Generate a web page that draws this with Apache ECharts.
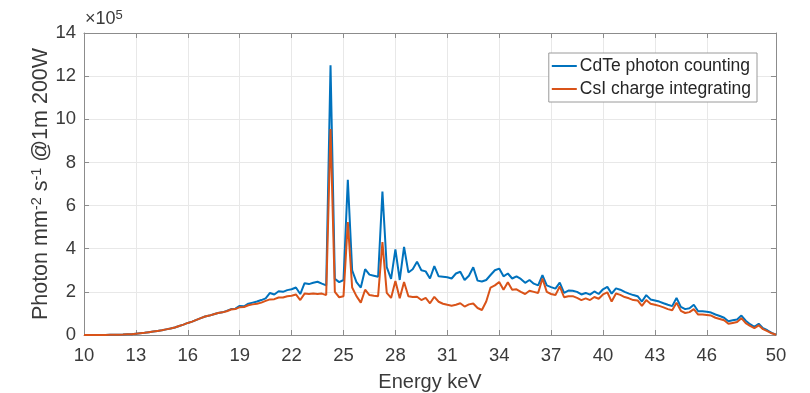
<!DOCTYPE html>
<html>
<head>
<meta charset="utf-8">
<script src="https://cdn.jsdelivr.net/npm/echarts@6/dist/echarts.min.js"></script>
<style>
html,body{margin:0;padding:0;background:#fff;}
#c{width:810px;height:393px;}
</style>
</head>
<body>
<div id="c"></div>
<script>
// Energy (keV)
const energy = [
10.00,10.25,10.50,10.75,11.00,11.25,11.50,11.75,12.00,12.25,12.50,12.75,
13.00,13.25,13.50,13.75,14.00,14.25,14.50,14.75,15.00,15.25,15.50,15.75,
16.00,16.25,16.50,16.75,17.00,17.25,17.50,17.75,18.00,18.25,18.50,18.75,
19.00,19.25,19.50,19.75,20.00,20.25,20.50,20.75,21.00,21.25,21.50,21.75,
22.00,22.25,22.50,22.75,23.00,23.25,23.50,23.75,24.00,24.25,24.50,24.75,
25.00,25.25,25.50,25.75,26.00,26.25,26.50,26.75,27.00,27.25,27.50,27.75,
28.00,28.25,28.50,28.75,29.00,29.25,29.50,29.75,30.00,30.25,30.50,30.75,
31.00,31.25,31.50,31.75,32.00,32.25,32.50,32.75,33.00,33.25,33.50,33.75,
34.00,34.25,34.50,34.75,35.00,35.25,35.50,35.75,36.00,36.25,36.50,36.75,
37.00,37.25,37.50,37.75,38.00,38.25,38.50,38.75,39.00,39.25,39.50,39.75,
40.00,40.25,40.50,40.75,41.00,41.25,41.50,41.75,42.00,42.25,42.50,42.75,
43.00,43.25,43.50,43.75,44.00,44.25,44.50,44.75,45.00,45.25,45.50,45.75,
46.00,46.25,46.50,46.75,47.00,47.25,47.50,47.75,48.00,48.25,48.50,48.75,
49.00,49.25,49.50,49.75,50.00
];
// CdTe photon counting (x1e5 photon mm^-2 s^-1)
const cdte = [
0,0,0,0,0.005,0.005,0.01,0.01,0.015,0.02,0.03,0.04,
0.06,0.08,0.10,0.13,0.16,0.19,0.22,0.26,0.30,0.35,0.42,0.48,
0.56,0.62,0.70,0.78,0.86,0.90,0.96,1.02,1.05,1.12,1.20,1.22,
1.35,1.33,1.45,1.50,1.55,1.62,1.70,1.95,1.88,2.03,2.00,2.08,
2.12,2.20,1.90,2.40,2.36,2.42,2.47,2.38,2.30,12.5,2.60,2.45,
2.55,7.2,3.0,2.45,2.2,3.05,2.8,2.75,2.7,6.65,3.15,2.6,
3.97,2.55,4.08,2.9,3.05,3.4,3.0,2.95,2.62,3.19,2.72,2.7,
2.68,2.62,2.85,2.93,2.55,2.75,3.14,2.52,2.48,2.55,2.78,3.0,
3.08,2.72,2.85,2.62,2.72,2.6,2.42,2.55,2.38,2.3,2.77,2.3,
2.22,2.15,2.43,1.95,2.06,2.05,2.0,1.88,1.95,1.87,2.02,1.9,
2.12,2.23,1.92,2.16,2.1,2.0,1.92,1.85,1.8,1.55,1.85,1.65,
1.6,1.55,1.47,1.4,1.34,1.72,1.3,1.2,1.24,1.4,1.1,1.1,
1.08,1.04,0.95,0.88,0.8,0.64,0.68,0.72,0.9,0.66,0.5,0.38,
0.52,0.32,0.22,0.1,0.02
];
// CsI charge integrating (x1e5 photon mm^-2 s^-1)
const csi = [
0,0,0,0,0.005,0.005,0.01,0.01,0.015,0.02,0.03,0.04,
0.06,0.08,0.10,0.13,0.16,0.19,0.22,0.26,0.30,0.35,0.42,0.48,
0.56,0.62,0.70,0.78,0.86,0.90,0.96,1.02,1.05,1.10,1.18,1.20,
1.29,1.30,1.38,1.42,1.45,1.50,1.58,1.65,1.66,1.74,1.74,1.80,
1.82,1.88,1.62,1.92,1.90,1.92,1.90,1.92,1.85,9.55,2.0,1.75,
1.8,5.24,2.2,1.8,1.5,2.1,1.85,1.82,1.8,4.31,1.95,1.72,
2.5,1.7,2.46,1.8,1.76,1.77,1.62,1.72,1.47,1.77,1.54,1.45,
1.4,1.36,1.4,1.47,1.32,1.42,1.46,1.25,1.16,1.55,2.2,2.3,
2.46,2.1,2.45,2.1,2.12,2.0,1.9,2.05,2.0,1.95,2.62,2.0,
1.9,1.85,2.25,1.75,1.8,1.8,1.72,1.62,1.7,1.62,1.76,1.68,
1.88,1.98,1.55,1.92,1.86,1.76,1.7,1.62,1.6,1.35,1.62,1.45,
1.4,1.35,1.28,1.2,1.15,1.5,1.12,1.02,1.06,1.2,0.95,0.95,
0.93,0.9,0.8,0.74,0.68,0.52,0.56,0.6,0.78,0.55,0.42,0.32,
0.45,0.27,0.18,0.08,0.01
];
const xTicks = [10,13,16,19,22,25,28,31,34,37,40,43,46,50];
const yTicks = [0,2,4,6,8,10,12,14];
const seriesNames = ['CdTe photon counting','CsI charge integrating'];

const FONT = '"Liberation Sans", Arial, Helvetica, sans-serif';
const AX = '#8c8c8c';
const TXT = '#3a3a3a';
const GRIDC = '#e8e8e8';

const chart = echarts.init(document.getElementById('c'), null, {renderer:'canvas'});
const baseX = {
  type:'value', min:10, max:50,
  axisLine:{show:true, onZero:false, lineStyle:{color:AX, width:1}},
  axisTick:{show:true, inside:true, length:5, customValues:xTicks, lineStyle:{color:AX}},
  splitLine:{show:false}
};
const baseY = {
  type:'value', min:0, max:14, interval:2,
  axisLine:{show:true, onZero:false, lineStyle:{color:AX, width:1}},
  axisTick:{show:true, inside:true, length:5, lineStyle:{color:AX}},
  splitLine:{show:false}
};
chart.setOption({
  animation:false,
  backgroundColor:'#fff',
  grid:{left:84, right:34, top:33, bottom:58, show:false, containLabel:false, outerBoundsMode:'none'},
  legend:{
    data:seriesNames,
    orient:'vertical', right:53, top:53,
    icon:'rect', itemWidth:25, itemHeight:2, itemGap:5,
    padding:[4,6,4,3],
    borderColor:'#9a9a9a', borderWidth:1, backgroundColor:'#fff',
    textStyle:{fontFamily:FONT, fontSize:17.5, color:'#262626', padding:[0,0,0,-2]}
  },
  graphic:[{
    type:'text', left:85, top:9,
    style:{
      text:'×10{s|5}',
      font:'18px '+FONT, fill:TXT,
      rich:{s:{fontSize:13, fontFamily:FONT, fill:TXT, verticalAlign:'top', padding:[0,0,8,0]}}
    }
  }],
  xAxis:[
    Object.assign({}, baseX, {
      position:'bottom',
      name:'Energy keV', nameLocation:'middle', nameGap:37, nameMoveOverlap:false,
      nameTextStyle:{fontFamily:FONT, fontSize:20, color:TXT},
      axisLabel:{show:true, customValues:xTicks, margin:11, fontFamily:FONT, fontSize:18.5, color:TXT},
      splitLine:{show:true, lineStyle:{color:GRIDC, width:1}}
    }),
    Object.assign({}, baseX, {position:'top', axisLabel:{show:false}})
  ],
  yAxis:[
    Object.assign({}, baseY, {
      position:'left',
      name:'Photon mm{s|-2} s{s|-1} @1m 200W', nameLocation:'middle', nameGap:31, nameMoveOverlap:false,
      nameTextStyle:{fontFamily:FONT, fontSize:21.5, color:TXT,
        rich:{s:{fontFamily:FONT, fontSize:14.5, color:TXT, verticalAlign:'top', padding:[0,0,9,0]}}},
      axisLabel:{show:true, margin:8, fontFamily:FONT, fontSize:18.5, color:TXT},
      splitLine:{show:true, lineStyle:{color:GRIDC, width:1}}
    }),
    Object.assign({}, baseY, {position:'right', axisLabel:{show:false}})
  ],
  series:[
    {name:seriesNames[0], type:'line', xAxisIndex:0, yAxisIndex:0, showSymbol:false,
     lineStyle:{color:'#0072BD', width:2}, itemStyle:{color:'#0072BD'},
     data:energy.map((e,i)=>[e, cdte[i]])},
    {name:seriesNames[1], type:'line', xAxisIndex:0, yAxisIndex:0, showSymbol:false,
     lineStyle:{color:'#D95319', width:2}, itemStyle:{color:'#D95319'},
     data:energy.map((e,i)=>[e, csi[i]])}
  ]
});
</script>
</body>
</html>
